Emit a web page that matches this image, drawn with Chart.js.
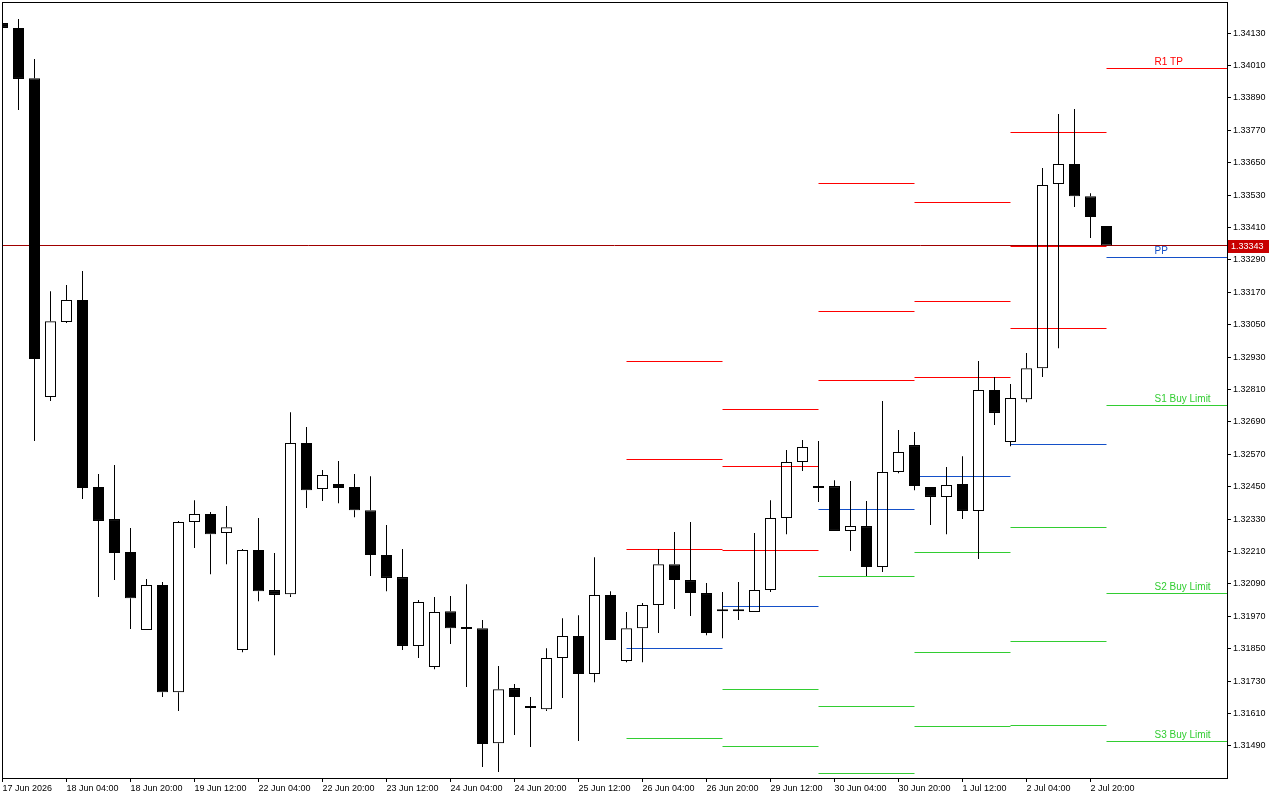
<!DOCTYPE html>
<html lang="fr">
<head>
<meta charset="utf-8">
<title>H4 - niveaux pivots</title>
<script src="https://cdn.jsdelivr.net/npm/chart.js@4.4.1/dist/chart.umd.min.js"></script>
<style>
    html, body { margin: 0; padding: 0; background: #fff; }
    #priceChart { display: block; }
</style>
</head>
<body>
<canvas id="priceChart" width="1280" height="800"></canvas>
<script>
// Bougies H4
const candleOpen = [
    1.34167, 1.34149, 1.33963, 1.32782, 1.33060, 1.33141, 1.32449, 1.32330, 1.32208, 1.31919,
    1.32086, 1.31689, 1.32319, 1.32349, 1.32278, 1.31845, 1.32215, 1.32067, 1.32052, 1.32612,
    1.32441, 1.32460, 1.32449, 1.32363, 1.32197, 1.32115, 1.31860, 1.31782, 1.31989, 1.31926,
    1.31926, 1.31500, 1.31704, 1.31630, 1.31626, 1.31815, 1.31897, 1.31756, 1.32049, 1.31804,
    1.31926, 1.32012, 1.32163, 1.32104, 1.32056, 1.31989, 1.31989, 1.31986, 1.32067, 1.32334,
    1.32541, 1.32445, 1.32452, 1.32286, 1.32304, 1.32152, 1.32504, 1.32604, 1.32449, 1.32412,
    1.32460, 1.32360, 1.32808, 1.32615, 1.32774, 1.32889, 1.33571, 1.33645, 1.33526, 1.33415
];
const candleHigh = [
    1.34167, 1.34182, 1.34034, 1.33174, 1.33197, 1.33249, 1.32497, 1.32530, 1.32297, 1.32108,
    1.32097, 1.32323, 1.32400, 1.32356, 1.32378, 1.32219, 1.32334, 1.32204, 1.32726, 1.32671,
    1.32512, 1.32545, 1.32497, 1.32489, 1.32308, 1.32219, 1.32030, 1.32041, 1.32045, 1.32089,
    1.31956, 1.31786, 1.31719, 1.31671, 1.31852, 1.31963, 1.31974, 1.32189, 1.32063, 1.31986,
    1.32019, 1.32219, 1.32282, 1.32319, 1.32093, 1.32060, 1.32097, 1.32278, 1.32400, 1.32586,
    1.32623, 1.32619, 1.32474, 1.32471, 1.32397, 1.32767, 1.32660, 1.32652, 1.32449, 1.32523,
    1.32563, 1.32915, 1.32856, 1.32830, 1.32945, 1.33630, 1.33830, 1.33849, 1.33537, 1.33415
];
const candleLow = [
    1.34149, 1.33845, 1.32619, 1.32767, 1.33056, 1.32404, 1.32041, 1.32104, 1.31923, 1.31919,
    1.31671, 1.31619, 1.32223, 1.32126, 1.32163, 1.31837, 1.32026, 1.31826, 1.32041, 1.32371,
    1.32397, 1.32389, 1.32337, 1.32119, 1.32063, 1.31845, 1.31815, 1.31774, 1.31867, 1.31708,
    1.31412, 1.31393, 1.31530, 1.31486, 1.31619, 1.31667, 1.31508, 1.31726, 1.31882, 1.31800,
    1.31800, 1.31908, 1.31997, 1.31971, 1.31900, 1.31889, 1.31956, 1.31986, 1.32060, 1.32274,
    1.32508, 1.32393, 1.32286, 1.32212, 1.32119, 1.32134, 1.32500, 1.32437, 1.32308, 1.32274,
    1.32330, 1.32182, 1.32678, 1.32600, 1.32763, 1.32856, 1.32963, 1.33486, 1.33371, 1.33343
];
const candleClose = [
    1.34149, 1.33960, 1.32923, 1.33063, 1.33141, 1.32445, 1.32323, 1.32204, 1.32037, 1.32086,
    1.31689, 1.32319, 1.32349, 1.32274, 1.32300, 1.32215, 1.32063, 1.32049, 1.32612, 1.32437,
    1.32493, 1.32445, 1.32363, 1.32197, 1.32112, 1.31860, 1.32023, 1.31986, 1.31926, 1.31923,
    1.31497, 1.31700, 1.31671, 1.31630, 1.31815, 1.31897, 1.31756, 1.32049, 1.31882, 1.31926,
    1.32012, 1.32163, 1.32104, 1.32056, 1.31908, 1.31989, 1.31989, 1.32067, 1.32334, 1.32541,
    1.32597, 1.32445, 1.32286, 1.32304, 1.32152, 1.32504, 1.32578, 1.32452, 1.32412, 1.32456,
    1.32360, 1.32808, 1.32723, 1.32778, 1.32889, 1.33567, 1.33645, 1.33526, 1.33449, 1.33343
];

// Libellés de l'axe du temps (une étiquette toutes les 4 bougies)
const timeLabels = [
    '17 Jun 2026', '18 Jun 04:00', '18 Jun 20:00', '19 Jun 12:00', '22 Jun 04:00', '22 Jun 20:00',
    '23 Jun 12:00', '24 Jun 04:00', '24 Jun 20:00', '25 Jun 12:00', '26 Jun 04:00', '26 Jun 20:00',
    '29 Jun 12:00', '30 Jun 04:00', '30 Jun 20:00', '1 Jul 12:00', '2 Jul 04:00', '2 Jul 20:00'
];
const timeLabelIndex = [0, 4, 8, 12, 16, 20, 24, 28, 32, 36, 40, 44, 48, 52, 56, 60, 64, 68];

// Graduations de l'axe des prix
const priceTicks = [
    1.31490, 1.31610, 1.31730, 1.31850, 1.31970, 1.32090, 1.32210, 1.32330, 1.32450, 1.32570,
    1.32690, 1.32810, 1.32930, 1.33050, 1.33170, 1.33290, 1.33410, 1.33530, 1.33650, 1.33770,
    1.33890, 1.34010, 1.34130
];

// Niveaux pivots journaliers (début / fin en index de bougie)
const levelStart = [39, 45, 51, 57, 63, 69];
const levelEnd = [45, 51, 57, 63, 69, 76.53];
const resistanceLevels = [
    [1.32915, 1.32549, 1.32219],
    [1.32734, 1.32523, 1.32215],
    [1.33574, 1.33097, 1.32845],
    [1.33504, 1.33134, 1.32856],
    [1.33763, 1.33341, 1.33034],
    [1.33997]
];
const pivotLevels = [1.31852, 1.32008, 1.32367, 1.32486, 1.32608, 1.33300];
const supportLevels = [
    [1.31519],
    [1.31697, 1.31489],
    [1.32119, 1.31637, 1.31386],
    [1.32208, 1.31837, 1.31560],
    [1.32300, 1.31878, 1.31567],
    [1.32752, 1.32056, 1.31508]
];

// Ordres affichés sur le jour courant
const orderNames = ['R1 TP', 'PP', 'S1 Buy Limit', 'S2 Buy Limit', 'S3 Buy Limit'];
const orderPrices = [1.33997, 1.33300, 1.32752, 1.32056, 1.31508];

const COLOR_RED = '#ff0000';
const COLOR_BLUE = '#1450c8';
const COLOR_GREEN = '#32cd32';
const orderColors = [COLOR_RED, COLOR_BLUE, COLOR_GREEN, COLOR_GREEN, COLOR_GREEN];

const X_MIN = -0.03125;
const X_MAX = 76.53125;
const FONT = '"Liberation Sans", Arial, sans-serif';

Chart.defaults.font.family = FONT;
Chart.defaults.font.size = 9;
Chart.defaults.color = '#000';

/**
 * Transforme une liste de niveaux par jour en segments horizontaux (coupés par des null).
 */
function segmentData(levels) {
    const pts = [];
    levels.forEach((vals, k) => {
        [].concat(vals).forEach(v => {
            pts.push({ x: levelStart[k], y: v }, { x: levelEnd[k], y: v }, { x: levelEnd[k], y: null });
        });
    });
    return pts;
}

const idx = candleOpen.map((_, i) => i);
const isBull = idx.map(i => candleClose[i] > candleOpen[i]);
const lastClose = candleClose[candleClose.length - 1];

function levelDataset(label, data, color, order) {
    return {
        type: 'line',
        label: label,
        data: data,
        borderColor: color,
        borderWidth: 1,
        pointRadius: 0,
        spanGaps: false,
        tension: 0,
        order: order
    };
}

function wickDataset(label, data) {
    return {
        type: 'bar',
        label: label,
        data: data,
        grouped: false,
        backgroundColor: '#000',
        borderWidth: 0,
        barThickness: 1,
        maxBarThickness: 1,
        inflateAmount: 0,
        order: 1
    };
}

// Aligne les segments horizontaux sur la grille des pixels (traits nets)
const crispLinesPlugin = {
    id: 'crispLines',
    afterDatasetsUpdate(chart) {
        chart.data.datasets.forEach((ds, i) => {
            if (ds.type !== 'line') return;
            chart.getDatasetMeta(i).data.forEach(pt => {
                if (Number.isFinite(pt.y)) pt.y = Math.floor(pt.y) + 0.5;
            });
        });
    }
};

// Cadre, étiquette du prix courant et libellés des ordres
const overlayPlugin = {
    id: 'overlay',
    afterDraw(chart) {
        const { ctx, chartArea: a, scales: { x, y } } = chart;
        ctx.save();
        ctx.strokeStyle = '#000';
        ctx.lineWidth = 1;
        ctx.strokeRect(a.left + 0.5, a.top + 0.5, a.right - a.left, a.bottom - a.top);

        ctx.font = '10px ' + FONT;
        ctx.textAlign = 'left';
        ctx.textBaseline = 'alphabetic';
        const lx = x.getPixelForValue(72);
        orderNames.forEach((name, k) => {
            ctx.fillStyle = orderColors[k];
            ctx.fillText(name, lx, Math.floor(y.getPixelForValue(orderPrices[k])) - 3);
        });

        const py = Math.round(y.getPixelForValue(lastClose));
        ctx.fillStyle = '#c80000';
        ctx.fillRect(a.right + 1, py - 6, 41, 13);
        ctx.fillStyle = '#fff';
        ctx.font = '9px ' + FONT;
        ctx.textBaseline = 'middle';
        ctx.fillText(lastClose.toFixed(5), a.right + 4, py + 0.5);
        ctx.restore();
    }
};

new Chart(document.getElementById('priceChart'), {
    type: 'bar',
    data: {
        datasets: [
            {
                type: 'bar',
                label: 'Corps',
                data: idx.map(i => ({ x: i, y: [candleOpen[i], candleClose[i]] })),
                grouped: false,
                backgroundColor: idx.map(i => isBull[i] ? 'rgba(255,255,255,0)' : '#000'),
                borderColor: '#000',
                borderWidth: 1,
                borderSkipped: false,
                barThickness: 11,
                maxBarThickness: 11,
                minBarLength: 2,
                inflateAmount: 0,
                order: 0
            },
            wickDataset('Mèche haute', idx.map(i => ({ x: i, y: [Math.max(candleOpen[i], candleClose[i]), candleHigh[i]] }))),
            wickDataset('Mèche basse', idx.map(i => ({ x: i, y: [candleLow[i], Math.min(candleOpen[i], candleClose[i])] }))),
            levelDataset('Résistances', segmentData(resistanceLevels), COLOR_RED, 2),
            levelDataset('Pivot', segmentData(pivotLevels), COLOR_BLUE, 2),
            levelDataset('Supports', segmentData(supportLevels), COLOR_GREEN, 2),
            levelDataset('Prix courant', [{ x: X_MIN, y: lastClose }, { x: X_MAX, y: lastClose }], '#a00000', 3)
        ]
    },
    options: {
        responsive: false,
        animation: false,
        layout: { padding: { left: 2, top: 2, right: 0, bottom: 0 } },
        plugins: {
            legend: { display: false },
            tooltip: { enabled: false }
        },
        scales: {
            x: {
                type: 'linear',
                min: X_MIN,
                max: X_MAX,
                offset: false,
                border: { display: false },
                grid: { drawOnChartArea: false, drawTicks: true, tickLength: 4, color: '#000', offset: false },
                afterBuildTicks: scale => { scale.ticks = timeLabelIndex.map(v => ({ value: v })); },
                afterFit: scale => {
                    scale.height = 22;
                    scale.paddingLeft = 0;
                    scale.paddingRight = 0;
                },
                ticks: {
                    align: 'start',
                    padding: 1,
                    autoSkip: false,
                    maxRotation: 0,
                    callback: v => {
                        const k = timeLabelIndex.indexOf(v);
                        return k >= 0 ? timeLabels[k] : '';
                    }
                }
            },
            y: {
                type: 'linear',
                position: 'right',
                min: 1.31371,
                max: 1.34245,
                beginAtZero: false,
                border: { display: false },
                grid: { drawOnChartArea: false, drawTicks: true, tickLength: 4, color: '#000' },
                afterBuildTicks: scale => { scale.ticks = priceTicks.map(v => ({ value: v })); },
                afterFit: scale => {
                    scale.width = 53;
                    scale.paddingTop = 0;
                    scale.paddingBottom = 0;
                },
                ticks: {
                    padding: 2,
                    callback: v => Number(v).toFixed(5)
                }
            }
        }
    },
    plugins: [crispLinesPlugin, overlayPlugin]
});
</script>
</body>
</html>
